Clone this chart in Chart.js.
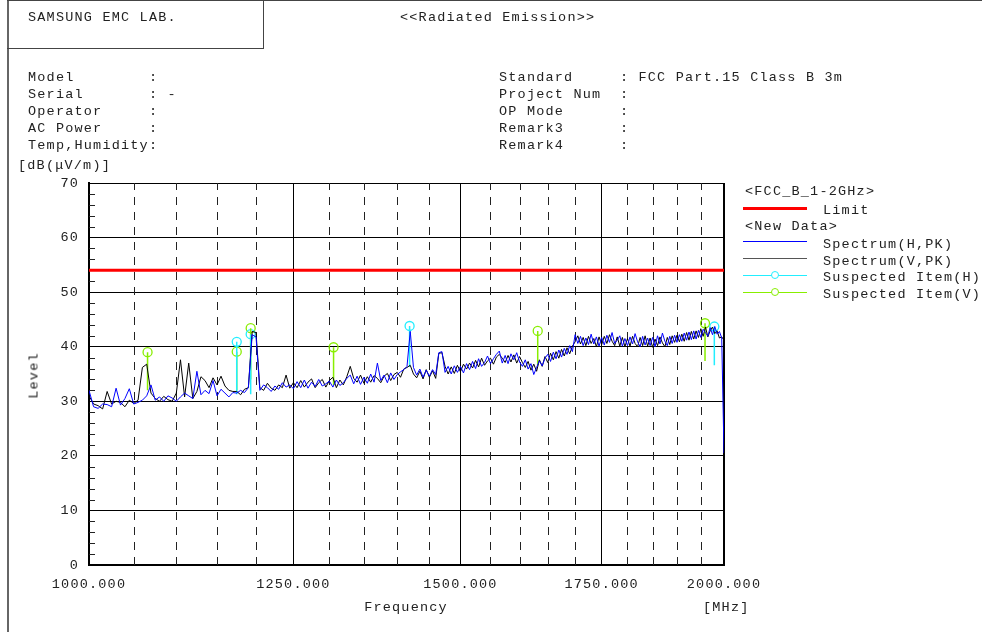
<!DOCTYPE html>
<html>
<head>
<meta charset="utf-8">
<script src="https://cdn.jsdelivr.net/npm/chart.js@4.4.0/dist/chart.umd.min.js"></script>
<style>
  html, body { margin: 0; padding: 0; background: #fff; }
  #page { position: relative; width: 982px; height: 632px; overflow: hidden;
          font-family: "Liberation Mono", monospace; font-size: 13.5px; letter-spacing: 1.2px; color: #222; }
  #page canvas { position: absolute; left: 0; top: 0; }
  .t { position: absolute; white-space: pre; line-height: 17px; }
  .ln { position: absolute; height: 0; }
  .mk { position: absolute; width: 8px; height: 8px; border-radius: 50%; background: #fff; box-sizing: border-box; }
</style>
</head>
<body>
<div id="page">
  <canvas id="chart" width="982" height="632"></canvas>

  <!-- page frame -->
  <div style="position:absolute;left:7px;top:0;width:2px;height:632px;background:#666"></div>
  <div style="position:absolute;left:7px;top:0;width:975px;height:1px;background:#444"></div>
  <div style="position:absolute;left:7px;top:0;width:256px;height:48px;border-right:1px solid #444;border-bottom:1px solid #444"></div>

  <div class="t" style="left:28px;top:9px">SAMSUNG EMC LAB.</div>
  <div class="t" style="left:400px;top:9px">&lt;&lt;Radiated Emission&gt;&gt;</div>

  <div class="t" style="left:28px;top:69px">Model        :</div>
  <div class="t" style="left:28px;top:86px">Serial       : -</div>
  <div class="t" style="left:28px;top:103px">Operator     :</div>
  <div class="t" style="left:28px;top:120px">AC Power     :</div>
  <div class="t" style="left:28px;top:137px">Temp,Humidity:</div>

  <div class="t" style="left:499px;top:69px">Standard     : FCC Part.15 Class B 3m</div>
  <div class="t" style="left:499px;top:86px">Project Num  :</div>
  <div class="t" style="left:499px;top:103px">OP Mode      :</div>
  <div class="t" style="left:499px;top:120px">Remark3      :</div>
  <div class="t" style="left:499px;top:137px">Remark4      :</div>

  <div class="t" style="left:18px;top:157px">[dB(μV/m)]</div>
  <div class="t" style="left:6px;top:367px;width:56px;text-align:center;transform:rotate(-90deg)">Level</div>
  <div class="t" style="left:356px;top:599px;width:100px;text-align:center">Frequency</div>
  <div class="t" style="left:703px;top:599px">[MHz]</div>

  <!-- legend -->
  <div class="t" style="left:745px;top:183px">&lt;FCC_B_1-2GHz&gt;</div>
  <div class="ln" style="left:743px;top:207px;width:64px;border-top:3px solid #ff0000"></div>
  <div class="t" style="left:823px;top:202px">Limit</div>
  <div class="t" style="left:745px;top:218px">&lt;New Data&gt;</div>
  <div class="ln" style="left:743px;top:241px;width:64px;border-top:1.5px solid #0000ff"></div>
  <div class="t" style="left:823px;top:236px">Spectrum(H,PK)</div>
  <div class="ln" style="left:743px;top:258px;width:64px;border-top:1.5px solid #555"></div>
  <div class="t" style="left:823px;top:253px">Spectrum(V,PK)</div>
  <div class="ln" style="left:743px;top:275px;width:64px;border-top:1.5px solid #22eeff"></div>
  <div class="mk" style="left:771px;top:271px;border:1.3px solid #22eeff"></div>
  <div class="t" style="left:823px;top:269px">Suspected Item(H)</div>
  <div class="ln" style="left:743px;top:292px;width:64px;border-top:1.5px solid #88ee00"></div>
  <div class="mk" style="left:771px;top:288px;border:1.3px solid #88ee00"></div>
  <div class="t" style="left:823px;top:286px">Suspected Item(V)</div>
</div>

<script>
// sweep frequencies [MHz]
const freqs = [
  1000, 1005, 1010, 1015, 1020, 1025, 1030, 1035, 1040, 1045,
  1050, 1055, 1060, 1065, 1070, 1075, 1080, 1085, 1090, 1095,
  1100, 1105, 1110, 1115, 1120, 1125, 1130, 1135, 1140, 1145,
  1150, 1155, 1160, 1165, 1170, 1175, 1180, 1185, 1190, 1195,
  1200, 1205, 1210, 1215, 1220, 1225, 1230, 1235, 1240, 1245,
  1250, 1255, 1260, 1265, 1270, 1275, 1280, 1285, 1290, 1295,
  1300, 1305, 1310, 1315, 1320, 1325, 1330, 1335, 1340, 1345,
  1350, 1355, 1360, 1365, 1370, 1375, 1380, 1385, 1390, 1395,
  1400, 1405, 1410, 1415, 1420, 1425, 1430, 1435, 1440, 1445,
  1450, 1455, 1460, 1465, 1470, 1475, 1480, 1485, 1490, 1495,
  1500, 1505, 1510, 1515, 1520, 1525, 1530, 1535, 1540, 1545,
  1550, 1555, 1560, 1565, 1570, 1575, 1580, 1585, 1590, 1595,
  1600, 1605, 1610, 1615, 1620, 1625, 1630, 1635, 1640, 1645,
  1650, 1655, 1660, 1665, 1670, 1675, 1680, 1685, 1690, 1695,
  1700, 1705, 1710, 1715, 1720, 1725, 1730, 1735, 1740, 1745,
  1750, 1755, 1760, 1765, 1770, 1775, 1780, 1785, 1790, 1795,
  1800, 1805, 1810, 1815, 1820, 1825, 1830, 1835, 1840, 1845,
  1850, 1855, 1860, 1865, 1870, 1875, 1880, 1885, 1890, 1895,
  1900, 1905, 1910, 1915, 1920, 1925, 1930, 1935, 1940, 1945,
  1950, 1955, 1960, 1965, 1970, 1975, 1980, 1985, 1990, 1995,
  2000
];

// Spectrum(H,PK) [dB(uV/m)]
const spectrumH = [
  32, 29, 28.7, 29.5, 29.4, 29, 32.4, 29.3, 30.5, 32.3,
  29.5, 29.8, 30.2, 31, 33, 30.2, 30.8, 30, 31, 30.6,
  30, 30.8, 31.5, 31, 30.5, 35.5, 31.2, 32, 31.4, 33.8,
  31, 32.2, 31.5, 30.8, 31.6, 31.5, 32, 31.6, 32.5, 42.2,
  41.8, 32, 33, 32.5, 31.8, 32.8, 32.2, 33.4, 32.6, 33,
  32.3, 33.6, 32.5, 33.9, 32.4, 33.5, 32.7, 34, 32.8, 33.2,
  33.7, 32.6, 33.9, 32.9, 33.4, 34.2, 34.8, 33.2, 34.6, 33.1,
  34.4, 33.3, 35, 33.5, 37, 33.8, 34.8, 33.4, 35.2, 34,
  34.9, 35.4, 35.8, 36.4, 42.8, 36.2, 34.8, 35.9, 34.4, 35.7,
  34.6, 35.8, 34.9, 38.9, 39.1, 35.3, 36.4, 35, 36.5, 35.3,
  36.4, 35.2, 36.9, 35.8, 37.3, 36, 37.8, 36.4, 37.1, 38.3,
  36.9, 37.8, 38.6, 39.2, 37, 38.4, 36.9, 38.7, 37.6, 38.9,
  37.2, 36.4, 37.6, 35.9, 36.9, 34.9, 36.2, 37.4, 36.5, 37.9,
  38.6, 37.3, 39, 37.8, 39.4, 38.1, 39.7, 38.6, 40.2, 39.1,
  42.2, 40.6, 41.9, 40.2, 41.6, 40.4, 42.3, 40.5, 41.8, 40.1,
  41.7, 40.3, 42.1, 40.8, 42.6, 40.6, 41.2, 42, 40.1, 41.5,
  40.2, 41.8, 40.5, 42.4, 40.9, 40, 41.9, 40.3, 41.6, 40.2,
  41.7, 40, 42, 40.5, 42.5, 41, 40.2, 41.9, 40.6, 42.1,
  40.8, 42.2, 41, 42.5, 41.2, 42.7, 41.3, 42.9, 41.4, 43,
  41.7, 43.2, 42.6, 41.9, 43.5, 42.2, 43.7, 42.3, 42.8, 41.6,
  20.5
];

// Spectrum(V,PK) [dB(uV/m)]
const spectrumV = [
  31, 29.5, 29.2, 28.6, 31.8, 29.5, 30, 29.8, 29, 30.2,
  29.6, 30.2, 36.2, 36.8, 31.5, 30.5, 30, 30.9, 30.3, 30,
  31.5, 37.6, 30.8, 37, 30.5, 31.8, 34.5, 33.8, 32.5, 34.3,
  33, 34.6, 32.8, 32, 31.8, 31.8, 31.2, 32.2, 32.5, 42.8,
  42.6, 32.5, 32, 33.3, 32.4, 32, 33, 32.5, 34.8, 32.4,
  33.4, 32.5, 33.8, 32.6, 33.5, 34.1, 32.5, 33.4, 34, 32.6,
  33.8, 34.4, 32.5, 33.9, 33, 34.5, 36.4, 34.2, 33.5, 34.8,
  33.3, 34.5, 33.5, 34.7, 34.2, 33.4, 34.6, 35.1, 33.8, 34.9,
  35.3, 34.4, 35.9, 36.2, 36.6, 35, 34.3, 35.5, 34.1, 35.8,
  34.4, 35.6, 34.2, 38.8, 38.9, 36.4, 35, 36.3, 35.1, 36.6,
  35.4, 36.8, 35.9, 37, 36.1, 37.5, 36.3, 37.9, 36.6, 37.4,
  37.9, 36.8, 38.1, 38.6, 37.9, 37.1, 38.4, 37.2, 38.5, 37,
  38.2, 37.1, 36.2, 37.3, 35.7, 36.8, 35.5, 37.6, 36.4, 38.2,
  37.1, 38.8, 37.6, 39.1, 37.9, 39.5, 38.3, 39.8, 38.7, 40.1,
  40.9, 42, 40.5, 41.7, 40.2, 41.9, 40.6, 41.5, 40, 41.8,
  40.4, 41.9, 40.6, 42.2, 41, 40.2, 41.8, 40.1, 41.7, 40,
  41.5, 40.1, 41.9, 40.6, 40, 41.7, 40.2, 42, 40.1, 41.6,
  39.9, 41.4, 40.2, 41.8, 40.7, 40, 41.7, 40.4, 42, 40.8,
  42.1, 40.9, 42.3, 41, 42.6, 41.2, 42.8, 41.4, 42.9, 41.7,
  43.3, 41.9, 43.6, 41.8, 42.9, 43.6, 42.4, 42.9, 41.6, 41.8,
  41.2
];

// FCC Part 15 class B limit, 1-2 GHz
const limitFreqs = [1000, 2000];
const limitLevels = [54, 54];

// suspected items: frequency, peak level, stem bottom
const suspectFreqH = [1175, 1193, 1419, 1979];
const suspectLevelH = [40.9, 42.3, 43.8, 43.7];
const suspectBaseH = [31.3, 31.3, 36.3, 36.6];
const suspectFreqV = [1066, 1175, 1193, 1306, 1632, 1959];
const suspectLevelV = [39.0, 39.1, 43.4, 39.9, 42.9, 44.3];
const suspectBaseV = [32.0, 32.0, 34.0, 33.0, 36.6, 37.4];

// axis ticks
const majorFreqs = [1000, 1250, 1500, 1750, 2000];
const minorFreqs = [1050, 1100, 1150, 1200, 1300, 1350, 1400, 1450,
                    1550, 1600, 1650, 1700, 1800, 1850, 1900, 1950];
const minorLevels = [2, 4, 6, 8, 12, 14, 16, 18, 22, 24, 26, 28, 32, 34, 36, 38,
                     42, 44, 46, 48, 52, 54, 56, 58, 62, 64, 66, 68];

const pts = (xs, ys) => xs.map((x, i) => ({ x: x, y: ys[i] }));
const stems = (xs, tops, bases) => {
  const out = [];
  xs.forEach((x, i) => { out.push({ x: x, y: tops[i] }, { x: x, y: bases[i] }, { x: x, y: null }); });
  return out;
};

const font = { family: 'Liberation Mono', size: 13.5, lineHeight: 1.2 };

// dashed minor verticals + small level ticks on the left axis
const minorGrid = {
  id: 'minorGrid',
  beforeDraw(chart) { chart.ctx.letterSpacing = '1.2px'; },
  beforeDatasetsDraw(chart) {
    const { ctx, chartArea: a, scales: { x, y } } = chart;
    ctx.save();
    ctx.strokeStyle = '#222';
    ctx.lineWidth = 1;
    ctx.setLineDash([8, 7]);
    minorFreqs.forEach(f => {
      const px = Math.round(x.getPixelForValue(f)) + 0.5;
      ctx.beginPath(); ctx.moveTo(px, a.bottom); ctx.lineTo(px, a.top); ctx.stroke();
    });
    ctx.setLineDash([]);
    minorLevels.forEach(v => {
      const py = Math.round(y.getPixelForValue(v)) + 0.5;
      ctx.beginPath(); ctx.moveTo(a.left, py); ctx.lineTo(a.left + 6, py); ctx.stroke();
    });
    ctx.restore();
  }
};

new Chart(document.getElementById('chart'), {
  type: 'line',
  data: {
    datasets: [
      { label: 'Limit', data: pts(limitFreqs, limitLevels), borderColor: '#ff0000', borderWidth: 3, pointRadius: 0 },
      { label: 'Spectrum(H,PK)', data: pts(freqs, spectrumH), borderColor: '#0000ff', borderWidth: 1, pointRadius: 0 },
      { label: 'Spectrum(V,PK)', data: pts(freqs, spectrumV), borderColor: '#000000', borderWidth: 1, pointRadius: 0 },
      { label: 'stem H', data: stems(suspectFreqH, suspectLevelH, suspectBaseH), borderColor: '#22eeff', borderWidth: 1.5, pointRadius: 0, spanGaps: false },
      { label: 'stem V', data: stems(suspectFreqV, suspectLevelV, suspectBaseV), borderColor: '#88ee00', borderWidth: 1.5, pointRadius: 0, spanGaps: false },
      { label: 'Suspected Item(H)', data: pts(suspectFreqH, suspectLevelH), showLine: false, pointRadius: 4.5,
        pointBorderColor: '#22eeff', pointBackgroundColor: 'transparent', pointBorderWidth: 1.3 },
      { label: 'Suspected Item(V)', data: pts(suspectFreqV, suspectLevelV), showLine: false, pointRadius: 4.5,
        pointBorderColor: '#88ee00', pointBackgroundColor: 'transparent', pointBorderWidth: 1.3 }
    ]
  },
  options: {
    responsive: false,
    animation: false,
    events: [],
    layout: { padding: { left: 0, right: 258, top: 183, bottom: 35 } },
    plugins: { legend: { display: false }, tooltip: { enabled: false } },
    scales: {
      x: {
        type: 'logarithmic',
        min: 1000,
        max: 2000,
        afterBuildTicks: ax => { ax.ticks = majorFreqs.map(v => ({ value: v })); },
        afterFit: ax => { ax.height = 32; },
        ticks: { callback: v => Number(v).toFixed(3), autoSkip: false, maxRotation: 0, padding: 11, color: '#222', font: font },
        grid: { color: '#000', lineWidth: c => (c.tick && c.tick.value === 2000 ? 2 : 1), drawTicks: false },
        border: { color: '#000', width: 2 }
      },
      y: {
        min: 0,
        max: 70,
        afterFit: ax => { ax.width = 89; },
        ticks: { stepSize: 10, padding: 10, color: '#222', font: font },
        grid: { color: '#000', lineWidth: 1, drawTicks: false },
        border: { color: '#000', width: 2 }
      }
    }
  },
  plugins: [minorGrid]
});
</script>
</body>
</html>
